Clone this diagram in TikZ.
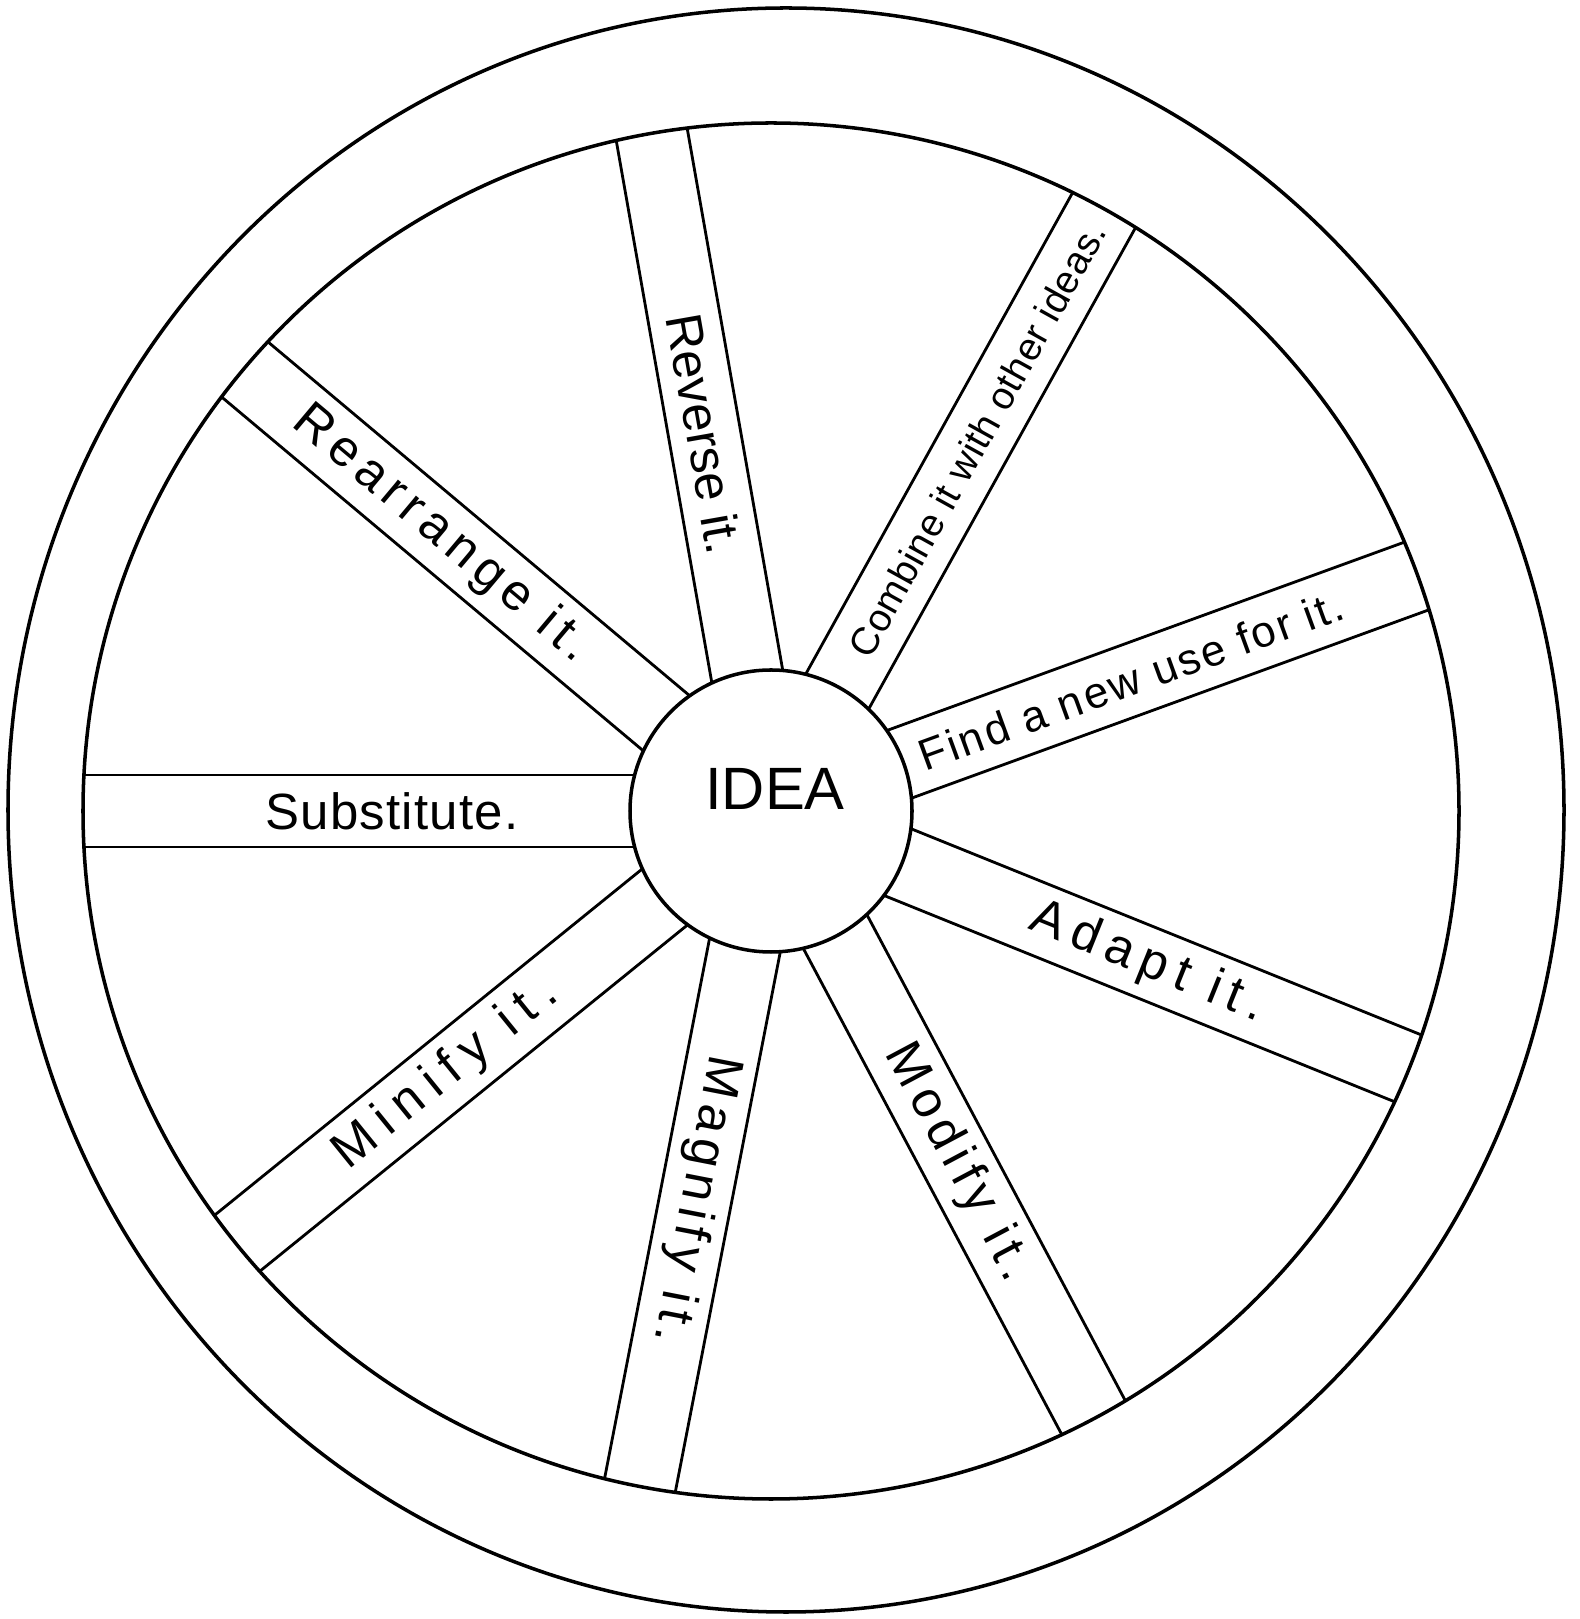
\documentclass[tikz,border=0pt]{standalone}
\usepackage{fontspec}
\setmainfont{Liberation Sans}
\usetikzlibrary{calc}

\begin{document}
\begin{tikzpicture}[
    rim/.style={draw,line width=1pt},
    spoke/.style={draw,line width=0.8pt},
    lbl/.style={font=\fontsize{14.5}{17}\selectfont,inner sep=0pt},
    small/.style={font=\fontsize{12.5}{15}\selectfont,inner sep=0pt}
]
  \useasboundingbox (0,0) rectangle (15.80,16.19);
  \coordinate (hub) at (7.71,8.08);

  % Tyre and rim
  \draw[rim] (7.86,8.09) ellipse [x radius=7.78cm, y radius=8.02cm];
  \draw[rim] (hub) circle [radius=6.88cm];

  % Spokes
  \foreach \a in {180,140,100,61,20,-22,-62,-101,-141}{
    \draw[spoke] ($(hub)+(\a:1.363)+(\a+90:0.36)$) -- ($(hub)+(\a:6.87)+(\a+90:0.36)$);
    \draw[spoke] ($(hub)+(\a:1.363)+(\a-90:0.36)$) -- ($(hub)+(\a:6.87)+(\a-90:0.36)$);
  }

  % Hub
  \node[rim,circle,minimum size=2.82cm,inner sep=0pt] (idea) at (hub) {};
  \node[inner sep=0pt,font=\fontsize{17}{20}\selectfont] (ideatext) at ($(hub)+(0.04,0.22)$) {IDEA};

  % Labels on the spokes
  \node[lbl,rotate=0] (subst) at ($(hub)+(180:3.79)$) {\addfontfeature{LetterSpace=2.5}Substitute.};
  \node[lbl,rotate=-40] (rearr) at ($(hub)+(140:4.30)$) {\addfontfeature{LetterSpace=13.7}Rearrange it.};
  \node[lbl,rotate=-80] (rev) at ($(hub)+(100:3.83)$) {Reverse it.};
  \node[font=\fontsize{11}{13}\selectfont,inner sep=0pt,rotate=61] (comb) at ($(hub)+(61:4.25)$) {\addfontfeature{LetterSpace=1.5}Combine it with other ideas.};
  \node[small,rotate=20] (find) at ($(hub)+(20:3.83)$) {\addfontfeature{LetterSpace=5.7}Find a new use for it.};
  \node[lbl,rotate=-22] (adapt) at ($(hub)+(-22:4.06)$) {\addfontfeature{LetterSpace=17}Adapt it.};
  \node[lbl,rotate=-62] (modify) at ($(hub)+(-62:3.98)$) {\addfontfeature{LetterSpace=14}Modify it.};
  \node[lbl,rotate=-101] (magnify) at ($(hub)+(-101:3.96)$) {\addfontfeature{LetterSpace=13}Magnify it.};
  \node[lbl,rotate=39] (minify) at ($(hub)+(-141:4.18)$) {\addfontfeature{LetterSpace=21}Minify it.};
\end{tikzpicture}
\end{document}
